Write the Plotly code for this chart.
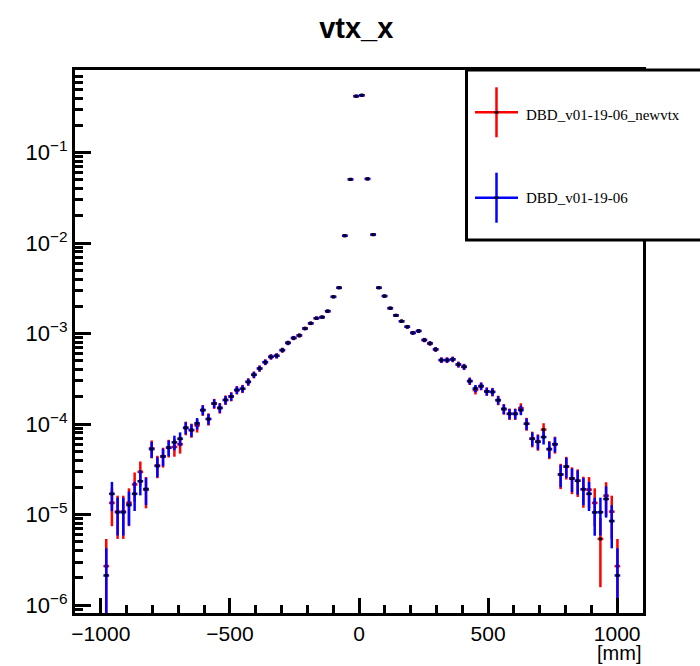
import math
import plotly.graph_objects as go

# Bin centres [mm] (22 mm bins)
bin_x = [-979, -957, -935, -913, -891, -869, -847, -825, -803, -781, -759, -737, -715, -693,
         -671, -649, -627, -605, -583, -561, -539, -517, -495, -473, -451, -429, -407, -385,
         -363, -341, -319, -297, -275, -253, -231, -209, -187, -165, -143, -121, -99, -77,
         -55, -33, -11, 11, 33, 55, 77, 99, 121, 143, 165, 187, 209, 231, 253, 275, 297, 319,
         341, 363, 385, 407, 429, 451, 473, 495, 517, 539, 561, 583, 605, 627, 649, 671, 693,
         715, 737, 759, 781, 803, 825, 847, 869, 891, 913, 935, 957, 979, 1001]

newvtx_y = [2.7e-6, 1.35e-5, 1.08e-5, 1.08e-5, 1.35e-5, 2.16e-5, 2.97e-5, 1.89e-5, 5.4e-5, 3.5e-5,
            4.4e-5, 5.5e-5, 5.6e-5, 6.0e-5, 9.1e-5, 8.6e-5, 9.7e-5, 1.43e-4, 1.14e-4, 1.69e-4,
            1.51e-4, 1.85e-4, 2.02e-4, 2.38e-4, 2.46e-4, 2.93e-4, 3.51e-4, 4.12e-4, 4.84e-4, 5.54e-4,
            5.69e-4, 6.57e-4, 7.9e-4, 8.95e-4, 9.55e-4, 1.14e-3, 1.30e-3, 1.48e-3, 1.52e-3, 1.77e-3,
            2.55e-3, 3.21e-3, 1.205e-2, 5.06e-2, 0.42, 0.43, 5.12e-2, 1.24e-2, 3.21e-3, 2.6e-3,
            1.91e-3, 1.59e-3, 1.37e-3, 1.19e-3, 1.02e-3, 1.07e-3, 8.5e-4, 7.8e-4, 6.7e-4, 5.1e-4,
            5.1e-4, 5.2e-4, 4.56e-4, 4.3e-4, 2.99e-4, 2.38e-4, 2.63e-4, 2.3e-4, 2.27e-4, 1.84e-4,
            1.47e-4, 1.30e-4, 1.30e-4, 1.5e-4, 1.01e-4, 6.9e-5, 6.4e-5, 8.7e-5, 5.3e-5, 6.0e-5,
            2.78e-5, 3.4e-5, 2.51e-5, 2.37e-5, 1.91e-5, 1.89e-5, 1.35e-5, 5.4e-6, 1.62e-5, 1.08e-5,
            2.7e-6]

old_y = [2.13e-6, 1.70e-5, 1.065e-5, 1.065e-5, 1.28e-5, 1.70e-5, 2.34e-5, 1.92e-5, 5.3e-5, 3.45e-5,
         4.4e-5, 5.5e-5, 6.3e-5, 6.9e-5, 9.1e-5, 8.6e-5, 1.02e-4, 1.43e-4, 1.14e-4, 1.69e-4,
         1.51e-4, 1.85e-4, 2.02e-4, 2.38e-4, 2.46e-4, 2.93e-4, 3.51e-4, 4.12e-4, 4.84e-4, 5.54e-4,
         5.69e-4, 6.57e-4, 7.9e-4, 8.95e-4, 9.55e-4, 1.14e-3, 1.30e-3, 1.48e-3, 1.52e-3, 1.77e-3,
         2.55e-3, 3.21e-3, 1.205e-2, 5.06e-2, 0.42, 0.43, 5.12e-2, 1.24e-2, 3.21e-3, 2.6e-3,
         1.91e-3, 1.59e-3, 1.37e-3, 1.19e-3, 1.02e-3, 1.07e-3, 8.5e-4, 7.8e-4, 6.7e-4, 5.1e-4,
         5.1e-4, 5.2e-4, 4.56e-4, 4.3e-4, 2.99e-4, 2.48e-4, 2.63e-4, 2.3e-4, 2.27e-4, 1.84e-4,
         1.47e-4, 1.30e-4, 1.30e-4, 1.43e-4, 1.01e-4, 6.9e-5, 6.4e-5, 7.2e-5, 5.3e-5, 6.0e-5,
         2.78e-5, 3.4e-5, 2.51e-5, 2.37e-5, 1.91e-5, 1.70e-5, 1.06e-5, 1.065e-5, 1.49e-5, 8.5e-6,
         2.13e-6]

newvtx_entries = 3.7e5
old_entries = 4.7e5

series_names = ["DBD_v01-19-06_newvtx", "DBD_v01-19-06"]
series_colors = ["#ff0000", "#0000ff"]

y_tickvals = [1e-6, 1e-5, 1e-4, 1e-3, 1e-2, 1e-1]
y_ticktext = ["10<sup>\u22126</sup>", "10<sup>\u22125</sup>", "10<sup>\u22124</sup>",
              "10<sup>\u22123</sup>", "10<sup>\u22122</sup>", "10<sup>\u22121</sup>"]
y_minor = [k * 10.0 ** e for e in range(-7, 0) for k in range(2, 10)]
x_tickvals = [-1000, -500, 0, 500, 1000]
x_minor = [v for v in range(-1100, 1101, 100) if v % 500 != 0]

fig = go.Figure()
for name, ys, n, col in [(series_names[0], newvtx_y, newvtx_entries, series_colors[0]),
                         (series_names[1], old_y, old_entries, series_colors[1])]:
    err = [math.sqrt(v / n) for v in ys]
    fig.add_trace(go.Scatter(
        x=bin_x, y=ys, mode="markers", name=name, showlegend=False,
        marker=dict(symbol="square", size=3, color="black", line=dict(width=0)),
        error_y=dict(type="data", array=err, color=col, thickness=2.5, width=0),
        error_x=dict(type="constant", value=11, color=col, thickness=2.5, width=0),
        cliponaxis=True,
    ))

font_sans = "Liberation Sans, Arial, Helvetica, sans-serif"

fig.update_layout(
    width=700, height=666,
    margin=dict(l=75, r=57, t=70, b=53),
    paper_bgcolor="white", plot_bgcolor="white",
    font=dict(family=font_sans, color="black"),
    title=dict(text="<b>vtx_x</b>", x=0.509, xanchor="center", y=1 - 28 / 666, yanchor="middle",
               yref="container", font=dict(family=font_sans, size=29, color="black")),
    xaxis=dict(range=[-1100, 1100], showgrid=False, zeroline=False,
               showline=True, linewidth=3, linecolor="black", mirror=True,
               ticks="inside", ticklen=15, tickwidth=2.5, tickcolor="black",
               tickvals=x_tickvals, tickfont=dict(size=21, family=font_sans),
               minor=dict(tickvals=x_minor, ticks="inside", ticklen=8, tickwidth=2.5,
                          tickcolor="black")),
    yaxis=dict(type="log", range=[math.log10(8.2e-7), math.log10(0.817)], showgrid=False,
               zeroline=False, showline=True, linewidth=3, linecolor="black", mirror=True,
               ticks="inside", ticklen=16, tickwidth=2.5, tickcolor="black",
               tickvals=y_tickvals, ticktext=y_ticktext, tickfont=dict(size=22, family=font_sans),
               minor=dict(tickvals=y_minor, ticks="inside", ticklen=8, tickwidth=2.5,
                          tickcolor="black")),
)

def px(xp):
    return (xp - 75) / 568.0

def py(yp):
    return (613 - yp) / 543.0

shapes = [
    dict(type="rect", xref="paper", yref="paper", x0=px(466.5), x1=px(710), y0=py(240), y1=py(70),
         line=dict(color="black", width=3), fillcolor="white", layer="above"),
]
legend_rows = [(112.3, 115.0), (197.7, 197.7)]
annotations = []
for (ly, ty), name, col in zip(legend_rows, series_names, series_colors):
    shapes.append(dict(type="line", xref="paper", yref="paper", x0=px(475), x1=px(518),
                       y0=py(ly), y1=py(ly), line=dict(color=col, width=2.5), layer="above"))
    shapes.append(dict(type="line", xref="paper", yref="paper", x0=px(496.5), x1=px(496.5),
                       y0=py(ly - 25), y1=py(ly + 25), line=dict(color=col, width=2.5), layer="above"))
    shapes.append(dict(type="rect", xref="paper", yref="paper", x0=px(494.5), x1=px(498.5),
                       y0=py(ly + 1.2), y1=py(ly - 1.2), line=dict(width=0), fillcolor="black",
                       layer="above"))
    annotations.append(dict(text=name, xref="paper", yref="paper", x=px(524), y=py(ty),
                            xanchor="left", yanchor="middle", showarrow=False,
                            font=dict(family="Liberation Serif, Times New Roman, serif", size=15,
                                      color="black")))

annotations.append(dict(text="[mm]", xref="paper", yref="paper", x=1.0, y=py(653),
                        xanchor="right", yanchor="middle", showarrow=False,
                        font=dict(family=font_sans, size=20, color="black")))

fig.update_layout(shapes=shapes, annotations=annotations)
fig.write_html("out.html")
